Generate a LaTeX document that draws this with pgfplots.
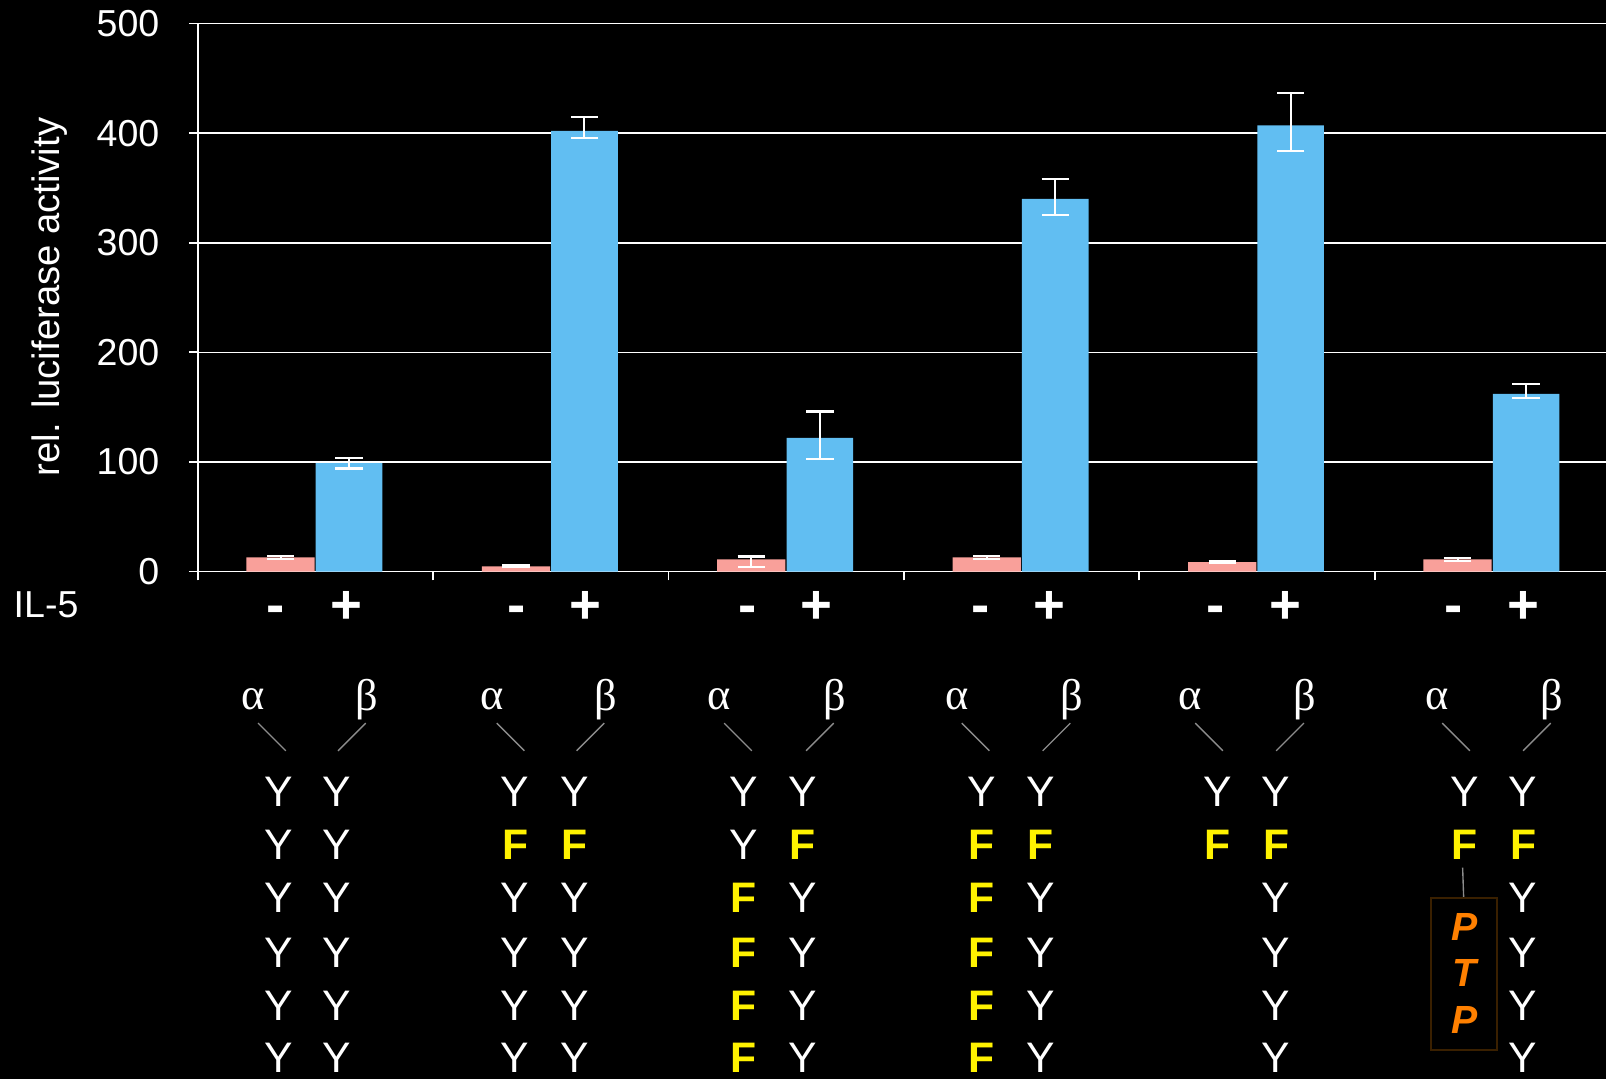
\documentclass[border=0pt]{standalone}
\usepackage{fontspec}
\setmainfont{Liberation Sans}
\newfontfamily\timesfont{Liberation Serif}
\usepackage{pgfplots}
\pgfplotsset{compat=1.18}
\definecolor{pinkbar}{RGB}{249,160,154}
\definecolor{bluebar}{RGB}{97,190,242}
\definecolor{ptp}{RGB}{255,128,0}
\definecolor{boxbrown}{RGB}{58,32,0}
\definecolor{linegrey}{RGB}{140,140,140}
\newcommand{\ylet}{\fontsize{12.5}{14}\selectfont}
\newcommand{\flet}{\fontsize{12.5}{14}\selectfont\bfseries}
\begin{document}
\begin{tikzpicture}
\fill[black] (-57.9pt,-148.5pt) rectangle (412.5pt,167.4pt);
\begin{axis}[
  at={(0pt,0pt)}, anchor=south west,
  scale only axis, width=413.7pt, height=160.5pt,
  xmin=-0.5, xmax=5.5, ymin=0, ymax=500,
  axis x line=bottom, axis y line=left,
  axis line style={white, line width=0.5pt, -},
  xtick={-0.5,0.5,1.5,2.5,3.5,4.5,5.5}, xticklabels={},
  ytick={0,100,200,300,400,500},
  tick align=outside, major tick length=2.6pt,
  tick style={white, line width=0.5pt},
  ymajorgrids, grid style={white, line width=0.45pt},
  yticklabel style={font=\fontsize{11}{13}\selectfont, text=white, xshift=-5.1pt},
  /pgf/number format/assume math mode=true,
  clip=false,
]
\addplot[ybar, bar width=0.29, bar shift=0, fill=pinkbar, draw=none,
  error bars/.cd, y dir=both, y explicit,
  error bar style={white, line width=0.6pt},
  error mark options={white, rotate=90, mark size=4pt, line width=0.6pt}]
  coordinates {
  (-0.148,13) += (0,1.2) -= (0,1.2)
  (0.852,4.8) += (0,1) -= (0,1)
  (1.852,11) += (0,2.7) -= (0,6.8)
  (2.852,13) += (0,1.2) -= (0,1.2)
  (3.852,8.5) += (0,0.8) -= (0,0.8)
  (4.852,11) += (0,1.5) -= (0,1.5)
  };
\addplot[ybar, bar width=0.283, bar shift=0, fill=bluebar, draw=none,
  error bars/.cd, y dir=both, y explicit,
  error bar style={white, line width=0.6pt},
  error mark options={white, rotate=90, mark size=4pt, line width=0.6pt}]
  coordinates {
  (0.143,99) += (0,5) -= (0,5)
  (1.143,402) += (0,13) -= (0,6.5)
  (2.143,122) += (0,24) -= (0,19)
  (3.143,340) += (0,18) -= (0,15)
  (4.143,407) += (0,30) -= (0,23)
  (5.143,162) += (0,9) -= (0,4)
  };
\end{axis}
\begin{scope}[x=0.3pt, y=-0.3pt, shift={(-57.9pt,167.4pt)}]
  % y label
  \node[rotate=90, text=white, font=\fontsize{11.2}{13}\selectfont] at (48,290) {rel. luciferase activity};
  % IL-5 row
  \node[text=white, font=\fontsize{11}{13}\selectfont] at (45,590) {IL-5};
  \foreach \mx/\px in {269/338, 504/572, 730/797, 957/1025, 1187/1255, 1419/1487} {
    \node[text=white, font=\fontsize{16}{18}\selectfont\bfseries, anchor=base] at (\mx,609) {-};
    \node[text=white, font=\fontsize{16}{18}\selectfont\bfseries, anchor=base] at (\px,609) {+};
  }
  % alpha / beta
  \foreach \ax/\bx in {247/358, 480/591, 702/815, 934/1046, 1162/1274, 1403/1515} {
    \node[text=white, font=\timesfont\fontsize{13}{15}\selectfont] at (\ax,683) {α};
    \node[text=white, font=\timesfont\fontsize{13}{15}\selectfont] at (\bx,683) {β};
    \draw[linegrey, line width=0.4pt] (\ax+5,706) -- (\ax+32,733);
    \draw[linegrey, line width=0.4pt] (\bx-1,706) -- (\bx-28,733);
  }
  % row 1: all Y
  \foreach \cx in {272,329,503,561,726,784,958,1016,1189,1246,1430,1487} {
    \node[text=white, font=\ylet] at (\cx,773) {Y};
  }
  % group 1
  \foreach \ry in {825,877,930,982,1033} {
    \node[text=white, font=\ylet] at (272,\ry) {Y};
    \node[text=white, font=\ylet] at (329,\ry) {Y};
  }
  % group 2
  \node[text=yellow, font=\flet] at (503,825) {F};
  \node[text=yellow, font=\flet] at (561,825) {F};
  \foreach \ry in {877,930,982,1033} {
    \node[text=white, font=\ylet] at (503,\ry) {Y};
    \node[text=white, font=\ylet] at (561,\ry) {Y};
  }
  % group 3
  \node[text=white, font=\ylet] at (726,825) {Y};
  \node[text=yellow, font=\flet] at (784,825) {F};
  \foreach \ry in {877,930,982,1033} {
    \node[text=yellow, font=\flet] at (726,\ry) {F};
    \node[text=white, font=\ylet] at (784,\ry) {Y};
  }
  % group 4
  \node[text=yellow, font=\flet] at (958,825) {F};
  \node[text=yellow, font=\flet] at (1016,825) {F};
  \foreach \ry in {877,930,982,1033} {
    \node[text=yellow, font=\flet] at (958,\ry) {F};
    \node[text=white, font=\ylet] at (1016,\ry) {Y};
  }
  % group 5
  \node[text=yellow, font=\flet] at (1189,825) {F};
  \node[text=yellow, font=\flet] at (1246,825) {F};
  \foreach \ry in {877,930,982,1033} {
    \node[text=white, font=\ylet] at (1246,\ry) {Y};
  }
  % group 6
  \node[text=yellow, font=\flet] at (1430,825) {F};
  \node[text=yellow, font=\flet] at (1487,825) {F};
  \foreach \ry in {877,930,982,1033} {
    \node[text=white, font=\ylet] at (1487,\ry) {Y};
  }
  \draw[linegrey, line width=0.4pt] (1428,847) -- (1429,876.5);
  \draw[boxbrown, line width=0.6pt] (1397,876.5) rectangle (1461.5,1025);
  \node[text=ptp, font=\fontsize{11.5}{13}\selectfont\bfseries\itshape] at (1430,905) {P};
  \node[text=ptp, font=\fontsize{11.5}{13}\selectfont\bfseries\itshape] at (1430,950) {T};
  \node[text=ptp, font=\fontsize{11.5}{13}\selectfont\bfseries\itshape] at (1430,996) {P};
\end{scope}
\pgfresetboundingbox
\path[use as bounding box] (-57.9pt,-148.5pt) rectangle (412.5pt,167.4pt);
\end{tikzpicture}
\end{document}
